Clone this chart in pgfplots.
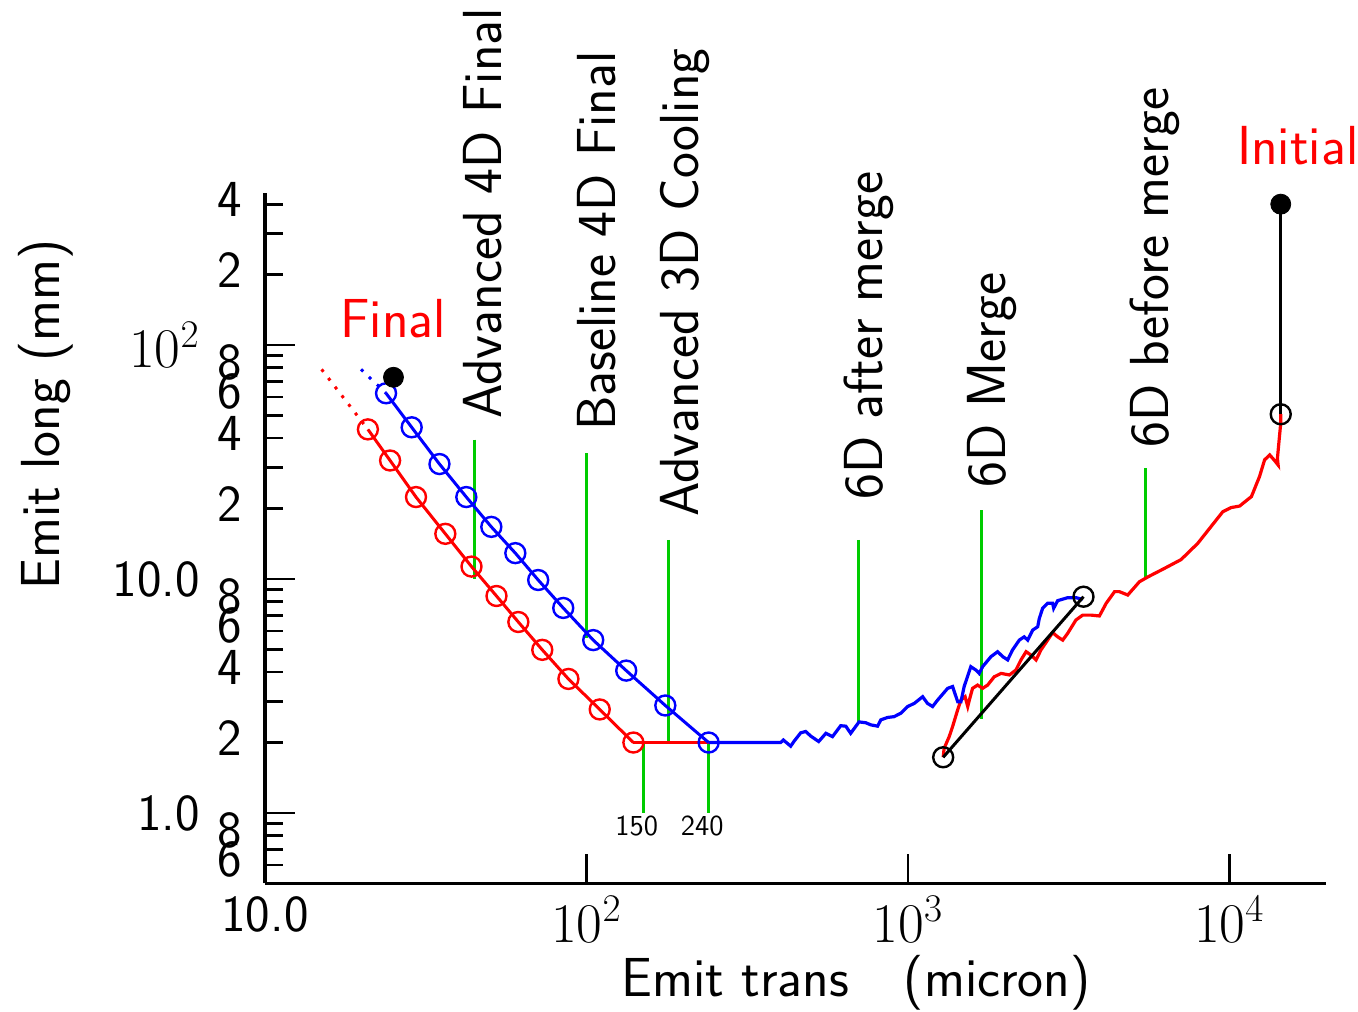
\RequirePackage{fix-cm}
\documentclass[border=0pt]{standalone}
\usepackage{pgfplots}
\pgfplotsset{compat=1.18}
\definecolor{grn}{rgb}{0,0.8,0}
\newcommand{\tpow}[1]{{\fontsize{28}{33}\selectfont$10^{#1}$}}
\begin{document}
\begin{tikzpicture}[font=\fontsize{27.5}{33}\selectfont\sffamily]
\useasboundingbox (-132.5pt,-63.8pt) rectangle (546.5pt,441.7pt);
\begin{axis}[
  scale only axis, width=530.5pt, height=345.15pt,
  xmode=log, ymode=log,
  xmin=10, xmax=20000, ymin=0.5, ymax=446,
  axis x line=bottom, axis y line=left,
  axis line style={-, line width=1.6pt},
  tick align=inside,
  major tick length=9pt, minor tick length=9pt,
  every tick/.style={black, line width=1.35pt},
  tick label style={font=\fontsize{26}{31}\selectfont\sffamily},
  xtick=\empty,
  minor xtick={20,30,40,50,60,70,80,90,200,300,400,500,600,700,800,900,2000,3000,4000,5000,6000,7000,8000,9000,20000},
  extra x ticks={10,100,1000,10000},
  extra x tick labels={10.0,\tpow{2},\tpow{3},\tpow{4}},
  extra x tick style={major tick length=15pt, xticklabel style={yshift=-3pt}},
  ytick={0.6,0.8,2,4,6,8,20,40,60,80,200,400},
  yticklabels={6,8,2,4,6,8,2,4,6,8,2,4},
  yticklabel style={xshift=-8.2pt, yshift=2.5pt},
  minor ytick={0.7,0.9,3,5,7,9,30,50,70,90,300},
  extra y ticks={1,10,100},
  extra y tick labels={1.0,10.0,\tpow{2}},
  extra y tick style={major tick length=15pt, yticklabel style={xshift=-21pt, yshift=-2.5pt}},
  clip=false,
]
% green markers
\addplot[grn, line width=1.5pt] coordinates {(45,39.4) (45,10)};
\addplot[grn, line width=1.5pt] coordinates {(100,34.5) (100,5.6)};
\addplot[grn, line width=1.5pt] coordinates {(180,14.7) (180,2.0)};
\addplot[grn, line width=1.5pt] coordinates {(700,14.7) (700,2.42)};
\addplot[grn, line width=1.5pt] coordinates {(1700,19.7) (1700,2.51)};
\addplot[grn, line width=1.5pt] coordinates {(5500,29.8) (5500,10)};
\addplot[grn, line width=1.5pt] coordinates {(150,2.0) (150,1.0)};
\addplot[grn, line width=1.5pt] coordinates {(240,2.0) (240,1.0)};
% dotted extensions
\addplot[red, line width=1.5pt, dash pattern=on 1.5pt off 4pt] coordinates {(15,78.7) (20.9,43.6)};
\addplot[blue, line width=1.5pt, dash pattern=on 1.5pt off 4pt] coordinates {(19.9,78.7) (23.8,62.2)};
% red track
\addplot[red, line width=1.5pt, mark=o, mark size=5pt, mark options={line width=1.2pt, solid}] coordinates {
(20.9,43.6) (24.5,32.1) (29.5,22.4) (36.4,15.6) (43.9,11.3) (52.5,8.46) (61.4,6.55) (72.9,4.98) (87.9,3.74) (110,2.77) (140,2.0)};
\addplot[red, line width=1.5pt] coordinates {(140,2.0) (240,2.0)};
\addplot[red, line width=1.6pt] coordinates {
(1288,1.73) (1297,1.89) (1345,2.12) (1378,2.34) (1429,2.76) (1463,3.04) (1507,3.14) (1536,2.85) (1554,3.04) (1590,3.41) (1648,3.52) (1709,3.41) (1771,3.52) (1857,3.82) (1950,3.95) (2070,3.89) (2168,4.08) (2249,4.51) (2333,4.89) (2415,4.73) (2506,4.51) (2596,4.98) (2722,5.48) (2822,5.90) (2925,5.66) (3033,5.48) (3143,5.86) (3334,6.68) (3500,7.01) (3715,7.01) (3945,6.95) (4140,7.87) (4397,8.83) (4552,8.83) (4833,8.54) (5253,9.73) (5578,10.2) (6285,11.1) (7079,12.1) (7980,14.2) (9550,19.4) (10140,20.2) (10770,20.5) (11720,22.5) (12420,27.4) (12880,32.3) (13360,33.9) (13780,32.3) (14190,30.7) (14120,32.8) (14360,42.0) (14460,46.3) (14460,50.6)};
% blue track
\addplot[blue, line width=1.5pt, mark=o, mark size=5pt, mark options={line width=1.2pt, solid}] coordinates {
(23.8,62.2) (28.6,44.5) (34.9,31.0) (42.3,22.4) (50.6,16.7) (60.1,12.9) (70.8,9.9) (84.7,7.52) (105,5.48) (133,4.06) (176,2.88) (240,2.0)};
\addplot[blue, line width=1.6pt] coordinates {
(240,2.0) (402,2.0) (410,2.05) (432,1.93) (442,2.02) (464,2.20) (481,2.23) (499,2.13) (528,2.02) (556,2.19) (583,2.12) (618,2.36) (641,2.35) (664,2.19) (705,2.45) (740,2.43) (767,2.38) (805,2.35) (824,2.50) (865,2.56) (906,2.58) (951,2.67) (998,2.85) (1047,2.94) (1112,3.14) (1151,2.94) (1194,2.85) (1238,3.04) (1330,3.41) (1378,3.47) (1429,2.99) (1463,2.99) (1497,3.47) (1570,4.22) (1629,4.08) (1667,3.95) (1709,4.22) (1815,4.66) (1903,4.89) (1972,4.66) (2044,4.51) (2118,4.98) (2222,5.48) (2302,5.66) (2360,5.48) (2446,6.05) (2535,6.25) (2565,6.79) (2627,7.50) (2722,7.87) (2822,7.87) (2843,7.50) (2925,8.08) (3143,8.32) (3334,8.32) (3500,8.19)};
% black merge line and initial
\addplot[black, line width=1.5pt, mark=o, mark size=5pt, mark options={line width=1.2pt}] coordinates {(1288,1.73) (3520,8.4)};
\addplot[black, line width=1.5pt] coordinates {(14460,50.6) (14460,400)};
\addplot[black, only marks, mark=o, mark size=5pt, mark options={line width=1.2pt}] coordinates {(14460,50.6)};
\addplot[black, only marks, mark=*, mark size=5pt] coordinates {(14460,400)};
\addplot[black, only marks, mark=*, mark size=5pt] coordinates {(25.1,72.8)};
\end{axis}
% stage labels
\begin{scope}[every node/.style={inner sep=0pt, rotate=90, anchor=base west}]
\node at (118.2pt,232.2pt) {Advanced 4D Final};
\node at (175pt,226.2pt) {Baseline 4D Final};
\node at (216.8pt,183.2pt) {Advanced 3D Cooling};
\node at (308.5pt,191.7pt) {6D after merge};
\node at (370pt,197.7pt) {6D Merge};
\node at (451.5pt,217.7pt) {6D before merge};
\node at (-102.5pt,146.7pt) {Emit long (mm)};
\end{scope}
\node[inner sep=0pt, anchor=base west] at (178pt,-56.55pt) {Emit trans\hspace{1em}(micron)};
\node[inner sep=0pt, anchor=base west, text=red] at (37.5pt,272.7pt) {Final};
\node[inner sep=0pt, anchor=base west, text=red] at (485.85pt,359.55pt) {Initial};
\node[inner sep=0pt, anchor=base, font=\fontsize{14.5}{17}\selectfont\sffamily] at (185.85pt,24.2pt) {150};
\node[inner sep=0pt, anchor=base, font=\fontsize{14.5}{17}\selectfont\sffamily] at (218.65pt,24.2pt) {240};
\end{tikzpicture}
\end{document}
